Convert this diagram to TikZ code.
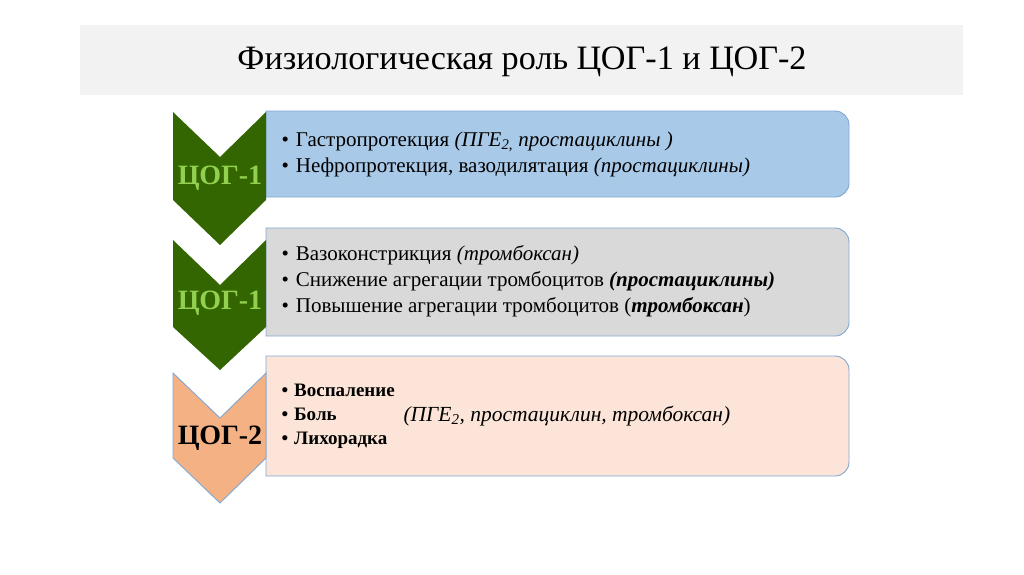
\documentclass[tikz,border=0pt]{standalone}
\usepackage{fontspec}
\setmainfont{Liberation Serif}
\usepackage{xcolor}
\definecolor{cogreen}{HTML}{336600}
\definecolor{colime}{HTML}{92D050}
\definecolor{copeach}{HTML}{F4B183}
\definecolor{coblue}{HTML}{A9C9E8}
\definecolor{cogray}{HTML}{D9D9D9}
\definecolor{colight}{HTML}{FCE5D8}
\definecolor{coedge}{HTML}{7FA7D3}
\definecolor{coband}{HTML}{F2F2F2}
\begin{document}
\begin{tikzpicture}[x=1pt,y=-1pt,
  infobox/.style={draw=coedge, line width=0.9pt},
  cogname/.style={font=\fontsize{28}{28}\selectfont\bfseries},
  itemtext/.style={anchor=west, align=left, font=\fontsize{21}{26}\selectfont},
  boldtext/.style={anchor=west, align=left, font=\fontsize{19}{24}\selectfont\bfseries}]
\useasboundingbox (0,0) rectangle (1024,574);
\fill [coband] (80,25) rectangle (963,95);
\node (title) at (522,62) {\fontsize{34.2}{34}\selectfont Физиологическая роль ЦОГ-1 и ЦОГ-2};

% boxes
\draw [infobox, fill=coblue] (266,111) [rounded corners=14pt] -- (849,111) -- (849,197) [sharp corners] -- (266,197) -- cycle;
\draw [infobox, fill=cogray] (266,228) [rounded corners=14pt] -- (849,228) -- (849,336) [sharp corners] -- (266,336) -- cycle;
\draw [infobox, fill=colight] (266,356) [rounded corners=14pt] -- (849,356) -- (849,476) [sharp corners] -- (266,476) -- cycle;

% chevrons
\fill [cogreen] (173,112) -- (220,157) -- (266,112) -- (266,200) -- (220,245) -- (173,200) -- cycle;
\fill [cogreen] (173,240) -- (220,285) -- (266,240) -- (266,327) -- (220,370) -- (173,327) -- cycle;
\draw [coedge, line width=0.9pt, fill=copeach] (173,373) -- (220,418) -- (266,373) -- (266,458) -- (220,503) -- (173,458) -- cycle;

\node [cogname, colime] (cog1a) at (220,178) {ЦОГ-1};
\node [cogname, colime] (cog1b) at (220,303) {ЦОГ-1};
\node [cogname, black] (cog2) at (220,438) {ЦОГ-2};

\node [itemtext] (items1) at (278,154) {\textbullet\hspace{7pt}Гастропротекция \textit{(ПГЕ\textsubscript{2,} простациклины )}\\
\textbullet\hspace{7pt}Нефропротекция, вазодилятация \textit{(простациклины)}};
\node [itemtext] (items2) at (278,281) {\textbullet\hspace{7pt}Вазоконстрикция \textit{(тромбоксан)}\\
\textbullet\hspace{7pt}Снижение агрегации тромбоцитов \textit{\textbf{(простациклины)}}\\
\textbullet\hspace{7pt}Повышение агрегации тромбоцитов (\textbf{\textit{тромбоксан}})};
\node [boldtext] (items3) at (278,416) {\textbullet\hspace{6pt}Воспаление\\
\textbullet\hspace{6pt}Боль\\
\textbullet\hspace{6pt}Лихорадка};
\node [anchor=west, font=\fontsize{21.5}{21}\selectfont\itshape] (agents) at (400,416) {(ПГЕ\textsubscript{2}, простациклин, тромбоксан)};
\end{tikzpicture}
\end{document}
